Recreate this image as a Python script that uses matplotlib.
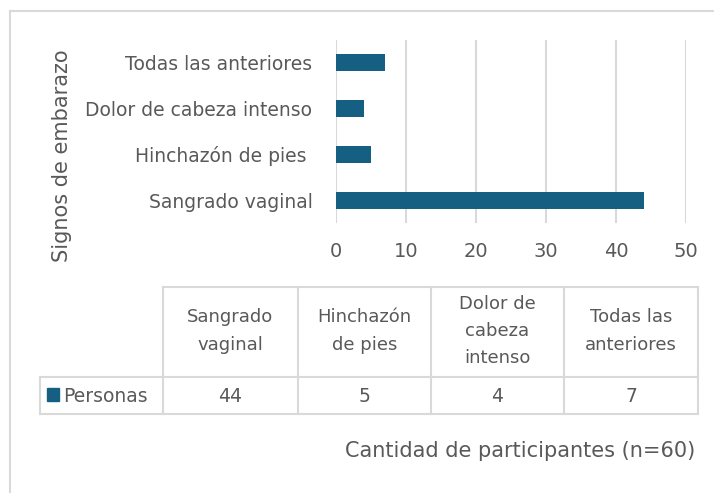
import matplotlib.pyplot as plt
from matplotlib.lines import Line2D
from matplotlib.patches import Rectangle

categories = ['Sangrado vaginal', 'Hinchazón de pies ', 'Dolor de cabeza intenso', 'Todas las anteriores']
table_headers = ['Sangrado\nvaginal', 'Hinchazón\nde pies', 'Dolor de\ncabeza\nintenso', 'Todas las\nanteriores']
personas = [44, 5, 4, 7]
series_name = 'Personas'
xticks = [0, 10, 20, 30, 40, 50]

bar_color = '#156082'
text_color = '#595959'
grid_color = '#d9d9d9'

W, H = 714, 493
fig = plt.figure(figsize=(W / 100, H / 100), dpi=100)
plt.rcParams['font.family'] = ['DejaVu Sans']


def fx(x):
    return x / W


def fy(y):
    return 1 - y / H


# outer chart frame (only left and top visible)
fig.add_artist(Line2D([fx(10), fx(10)], [fy(11), 0], color=grid_color, lw=1.5))
fig.add_artist(Line2D([fx(10), 1], [fy(11), fy(11)], color=grid_color, lw=1.5))

ax = fig.add_axes([fx(336), fy(223), fx(686) - fx(336), fy(40) - fy(223)])
ax.barh(range(len(categories)), personas, height=0.37, color=bar_color, zorder=3)
ax.set_xlim(0, 50)
ax.set_ylim(-0.5, len(categories) - 0.5)
ax.set_xticks(xticks)
ax.set_yticks(range(len(categories)))
ax.set_yticklabels(categories)
ax.grid(axis='x', color=grid_color, lw=1.5, zorder=0)
for s in ax.spines.values():
    s.set_visible(False)
ax.tick_params(axis='x', length=0, pad=14, labelsize=14, labelcolor=text_color)
ax.tick_params(axis='y', length=0, pad=17, labelsize=13.5, labelcolor=text_color)

fig.text(fx(62), fy(156), 'Signos de embarazo', rotation=90, ha='center', va='center',
         fontsize=15, color=text_color)

# data table
col_x = [40, 163, 298, 431, 564, 698]
top, mid, bot = 287, 377, 414
lw = 1.5
fig.add_artist(Line2D([fx(col_x[1]), fx(col_x[-1])], [fy(top), fy(top)], color=grid_color, lw=lw))
for yy in (mid, bot):
    fig.add_artist(Line2D([fx(col_x[0]), fx(col_x[-1])], [fy(yy), fy(yy)], color=grid_color, lw=lw))
fig.add_artist(Line2D([fx(col_x[0]), fx(col_x[0])], [fy(mid), fy(bot)], color=grid_color, lw=lw))
for xx in col_x[1:]:
    fig.add_artist(Line2D([fx(xx), fx(xx)], [fy(top), fy(bot)], color=grid_color, lw=lw))

for i, (hdr, val) in enumerate(zip(table_headers, personas)):
    cx = (col_x[i + 1] + col_x[i + 2]) / 2
    fig.text(fx(cx), fy((top + mid) / 2 - 1), hdr, ha='center', va='center', fontsize=13,
             color=text_color, linespacing=1.65)
    fig.text(fx(cx), fy((mid + bot) / 2 + 1), str(val), ha='center', va='center', fontsize=13.5,
             color=text_color)

fig.add_artist(Rectangle((fx(47), fy(401)), fx(12), fy(388) - fy(401), color=bar_color,
                         transform=fig.transFigure))
fig.text(fx(63), fy((mid + bot) / 2 + 1), series_name, ha='left', va='center', fontsize=13.5,
         color=text_color)

fig.text(fx(695), fy(451), 'Cantidad de participantes (n=60)', ha='right', va='center',
         fontsize=15, color=text_color)

fig.savefig('out.png', dpi=100)
